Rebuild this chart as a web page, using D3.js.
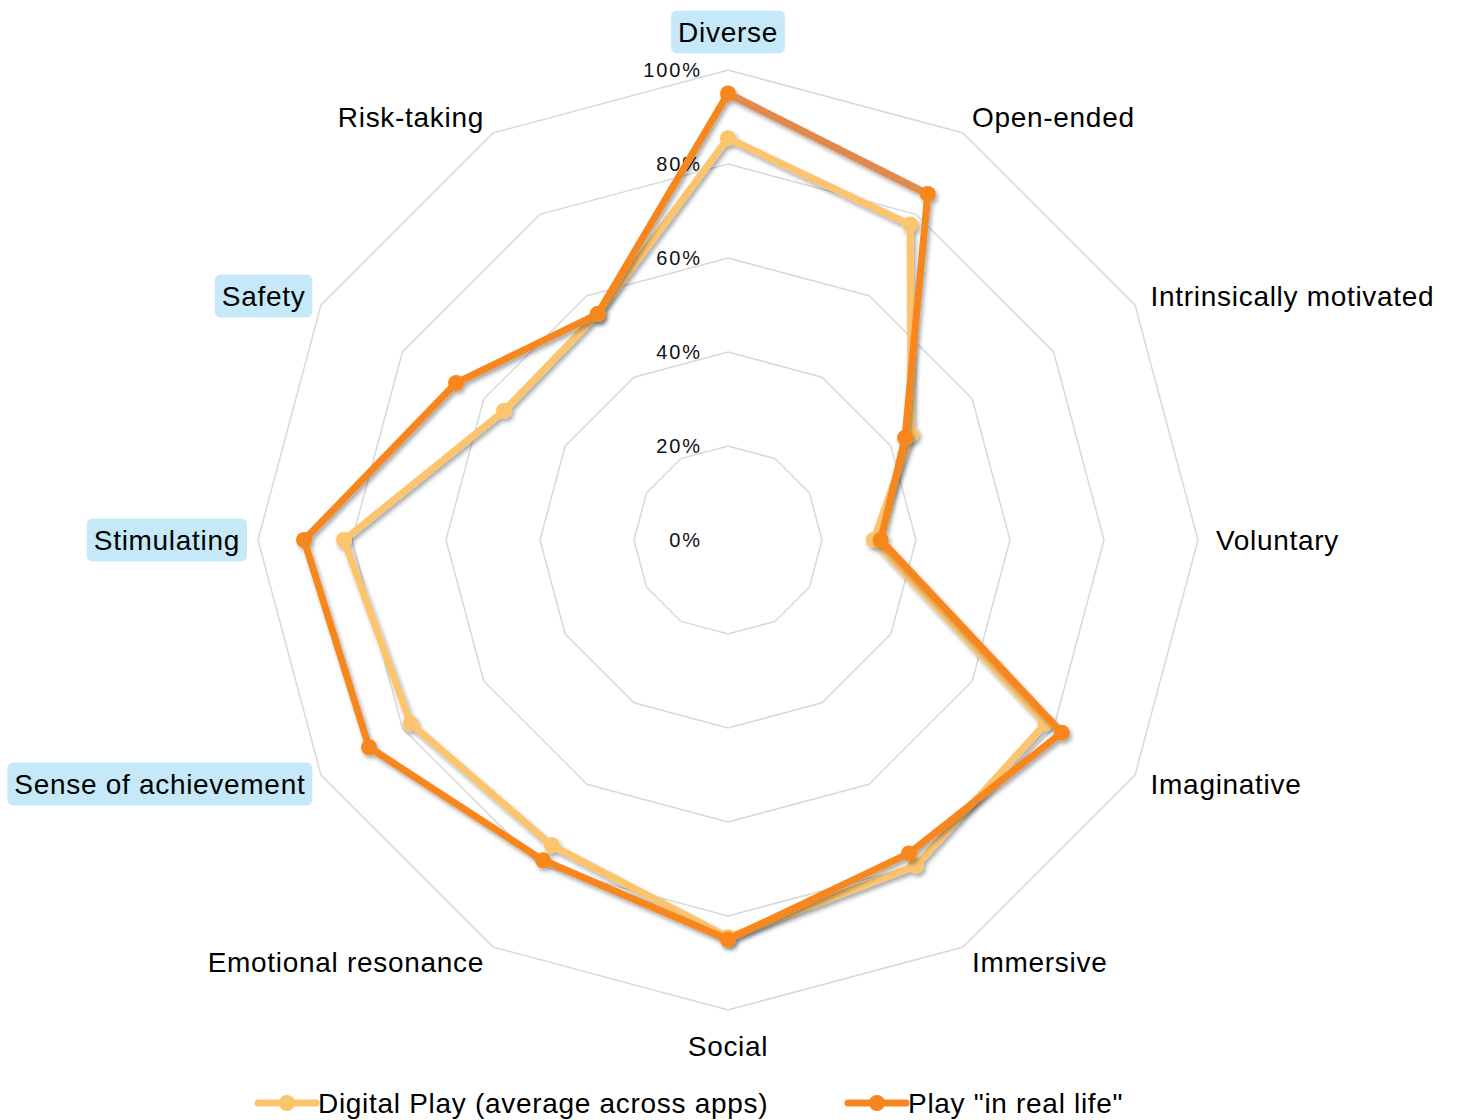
<!DOCTYPE html>
<html>
<head>
<meta charset="utf-8">
<script src="https://cdn.jsdelivr.net/npm/d3@7/dist/d3.min.js"></script>
<style>
  html, body { margin: 0; padding: 0; background: #fff; }
  svg { display: block; font-family: "Liberation Sans", Arial, sans-serif; }
</style>
</head>
<body>
<svg id="chart" width="1458" height="1120"></svg>
<script>
// Play qualities, clockwise from the top
const categories = [
  "Diverse", "Open-ended", "Intrinsically motivated", "Voluntary",
  "Imaginative", "Immersive", "Social", "Emotional resonance",
  "Sense of achievement", "Stimulating", "Safety", "Risk-taking"
];
// Qualities shown with a highlighted label
const highlighted = ["Diverse", "Safety", "Stimulating", "Sense of achievement"];

// Share of ratings (%) per quality
const digitalPlay = [85.5, 77.5, 45, 31, 78, 80, 84.5, 75, 78, 81.7, 55, 55.5];
const realLifePlay = [95, 85, 43.5, 32.5, 82, 77, 85, 78.7, 88.2, 90.2, 66.8, 55.5];

const seriesNames = ["Digital Play (average across apps)", "Play \"in real life\""];
const tickValues = [0, 20, 40, 60, 80, 100];
const tickLabels = ["0%", "20%", "40%", "60%", "80%", "100%"];

const width = 1458, height = 1120;
const cx = 728, cy = 540, R = 470;
const colors = ["#fdc46e", "#f7861e"];
const accentSegment = "#e08b4c"; // Diverse -> Open-ended edge of the real-life outline

const svg = d3.select("#chart");
const defs = svg.append("defs");
const shadow = defs.append("filter").attr("id", "shadow")
  .attr("x", "-10%").attr("y", "-10%").attr("width", "120%").attr("height", "120%");
shadow.append("feDropShadow")
  .attr("dx", 2).attr("dy", 3).attr("stdDeviation", 2)
  .attr("flood-color", "#000").attr("flood-opacity", 0.35);

const g = svg.append("g").attr("transform", `translate(${cx},${cy})`);

const angle = d3.scalePoint().domain(categories).range([0, 2 * Math.PI * (categories.length - 1) / categories.length]);
const r = d3.scaleLinear().domain([0, 100]).range([0, R]);

const px = (cat, v) => r(v) * Math.sin(angle(cat));
const py = (cat, v) => -r(v) * Math.cos(angle(cat));

// Grid rings
const ring = d3.lineRadial()
  .angle(d => angle(d))
  .curve(d3.curveLinearClosed);
g.append("g").selectAll("path")
  .data(tickValues.filter(t => t > 0))
  .join("path")
  .attr("d", t => ring.radius(() => r(t))(categories))
  .attr("fill", "none")
  .attr("stroke", "#d9d9d9")
  .attr("stroke-width", 1.5);

// Tick labels along the vertical axis
g.append("g").selectAll("text")
  .data(tickValues)
  .join("text")
  .attr("x", -26)
  .attr("y", t => -r(t))
  .attr("text-anchor", "end")
  .attr("dominant-baseline", "central")
  .attr("font-size", 20)
  .attr("letter-spacing", 1.9)
  .attr("fill", "#111")
  .text((t, i) => tickLabels[i]);

// Series outlines
const series = [digitalPlay, realLifePlay];
const seriesLine = d3.lineRadial()
  .angle((d, i) => angle(categories[i]))
  .radius(d => r(d))
  .curve(d3.curveLinearClosed);

series.forEach((vals, si) => {
  const sg = g.append("g").attr("filter", "url(#shadow)");
  sg.append("path")
    .attr("d", seriesLine(vals))
    .attr("fill", "none")
    .attr("stroke", colors[si])
    .attr("stroke-width", 7)
    .attr("stroke-linejoin", "round");
  if (si === 1) {
    sg.append("line")
      .attr("x1", px(categories[0], vals[0])).attr("y1", py(categories[0], vals[0]))
      .attr("x2", px(categories[1], vals[1])).attr("y2", py(categories[1], vals[1]))
      .attr("stroke", accentSegment)
      .attr("stroke-width", 7);
  }
  sg.selectAll("circle")
    .data(vals)
    .join("circle")
    .attr("cx", (d, i) => px(categories[i], d))
    .attr("cy", (d, i) => py(categories[i], d))
    .attr("r", 8)
    .attr("fill", colors[si]);
});

// Category labels
const labelG = g.append("g");
categories.forEach(cat => {
  const a = angle(cat);
  const s = Math.sin(a), c = Math.cos(a);
  let x = (R + 18) * s, y = -(R + 18) * c;
  let anchor = "middle";
  if (Math.abs(s) < 0.01) {
    y += c > 0 ? -20 : 18;
  } else {
    anchor = s > 0 ? "start" : "end";
  }
  const t = labelG.append("text")
    .attr("x", x).attr("y", y)
    .attr("text-anchor", anchor)
    .attr("dominant-baseline", "central")
    .attr("font-size", 28)
    .attr("letter-spacing", 0.7)
    .attr("fill", "#000")
    .text(cat);
  if (highlighted.includes(cat)) {
    const b = t.node().getBBox();
    labelG.insert("rect", () => t.node())
      .attr("x", b.x - 7).attr("y", b.y - 6)
      .attr("width", b.width + 14).attr("height", b.height + 12)
      .attr("rx", 6)
      .attr("fill", "#c5e9f9");
  }
});

// Legend
const legendItems = [
  { name: seriesNames[0], color: colors[0], x: 258 },
  { name: seriesNames[1], color: colors[1], x: 848 }
];
const lg = svg.append("g").attr("transform", "translate(0,1103)");
legendItems.forEach(item => {
  lg.append("line")
    .attr("x1", item.x).attr("x2", item.x + 58)
    .attr("y1", 0).attr("y2", 0)
    .attr("stroke", item.color).attr("stroke-width", 7)
    .attr("stroke-linecap", "round");
  lg.append("circle")
    .attr("cx", item.x + 29).attr("cy", 0).attr("r", 8)
    .attr("fill", item.color);
  lg.append("text")
    .attr("x", item.x + 60).attr("y", 0)
    .attr("dominant-baseline", "central")
    .attr("font-size", 28)
    .attr("letter-spacing", 0.7)
    .attr("fill", "#000")
    .text(item.name);
});
</script>
</body>
</html>
